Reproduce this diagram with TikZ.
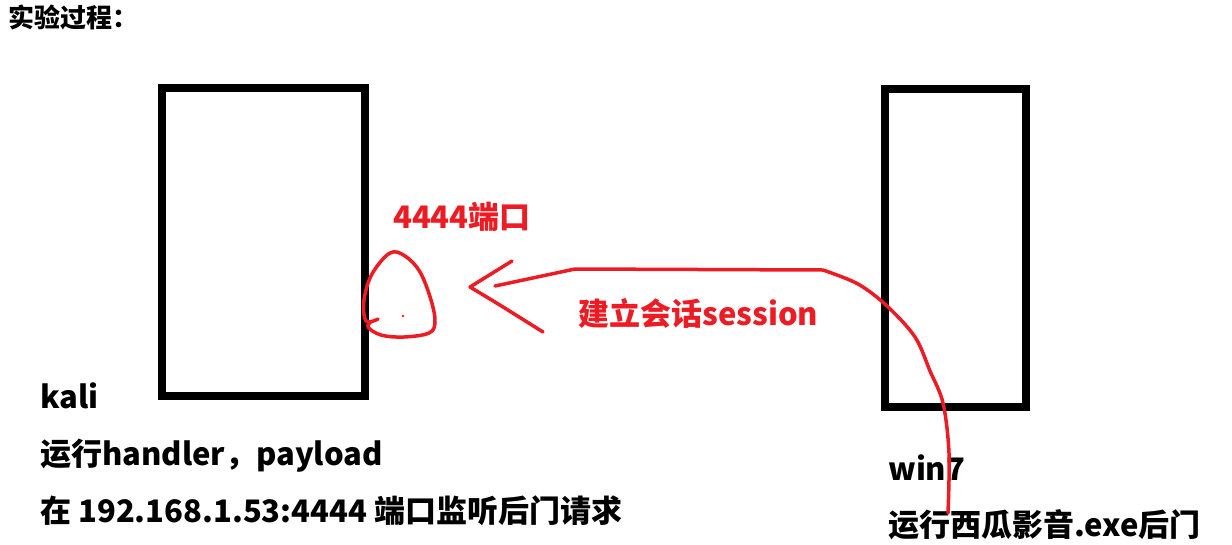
\documentclass[tikz,border=0pt]{standalone}
\usepackage{fontspec}
\newfontfamily\cjk{Noto Sans CJK SC}
\definecolor{pred}{HTML}{ED1C24}
\begin{document}
\begin{tikzpicture}[x=1pt,y=-1pt,
  box/.style={draw=black,line width=8pt,inner sep=0pt},
  redline/.style={draw=pred,line width=3.5pt,line cap=round,line join=round},
  lbl/.style={anchor=base west,inner sep=0pt,font=\cjk\bfseries\fontsize{31}{36}\selectfont},
  rlbl/.style={lbl,text=pred}]
\useasboundingbox[fill=white] (0,0) rectangle (1232,544);
% title
\node[lbl,font=\cjk\bfseries\fontsize{26}{30}\selectfont] (title) at (8,27) {实验过程：};
% boxes
\node[box,minimum width=203pt,minimum height=308pt] (kalibox) at (263.5,242) {};
\node[box,minimum width=141pt,minimum height=318pt] (winbox) at (955.5,248) {};
% left texts
\node[lbl] (kali) at (40,408) {kali};
\node[lbl] (run1) at (40,465) {运行handler，payload};
\node[lbl] (listen) at (40,522) {在 192.168.1.53:4444 端口监听后门请求};
% right texts
\node[lbl] (win) at (888,480) {win7};
\node[lbl] (run2) at (888,536) {运行西瓜影音.exe后门};
% red texts
\node[rlbl] (port) at (393,228) {4444端口};
\node[rlbl] (sess) at (578,325) {建立会话session};
% port loop
\coordinate (dot) at (403,316);
\fill[pred] (dot) circle (1.3pt);
\draw[redline] plot[smooth,tension=0.6] coordinates {(378,319) (366,321) (364,300) (372,274) (390,253) (405,256) (420,272) (431,300) (435,322) (429,333) (404,337) (381,335) (368,327) (372,321)};
% session connector
\coordinate (start) at (948,513);
\coordinate (bend) at (823,270);
\coordinate (tip) at (470,287);
\draw[redline] plot[smooth,tension=0.55] coordinates {(948,513) (949,453) (943,403) (930,371) (915,337) (887,306) (858,284) (823,270)} -- (575,269) -- (495,286);
\draw[redline] (512,261) -- (tip) .. controls (500,305) .. (543,332);
\end{tikzpicture}
\end{document}
